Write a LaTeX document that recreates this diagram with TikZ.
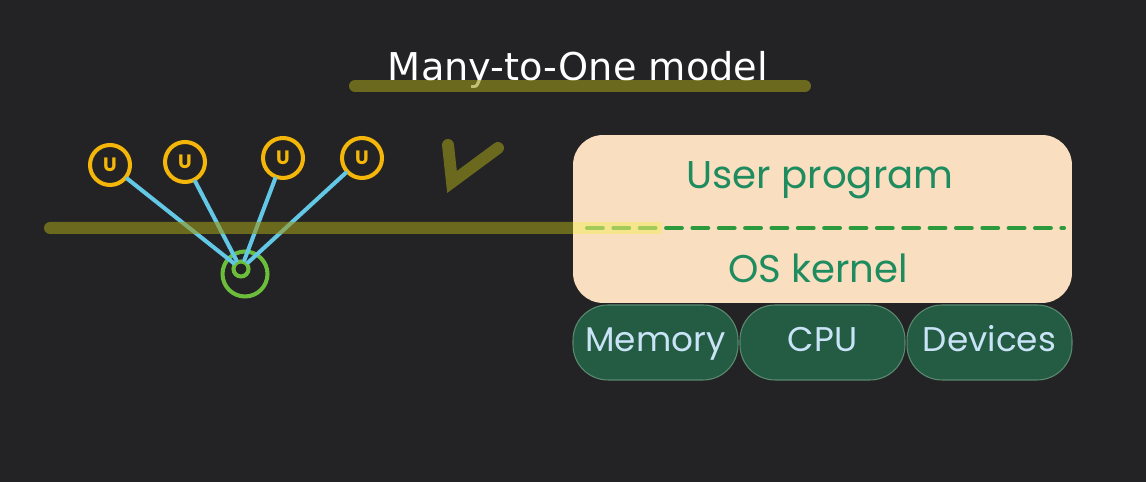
\documentclass[tikz,border=0pt]{standalone}
\usepackage{fontspec}
\setmainfont{DejaVu Sans}
\newfontfamily\handfont{Poppins}
\usetikzlibrary{positioning}
\definecolor{board}{HTML}{232325}
\definecolor{olivebar}{HTML}{9B9919}
\definecolor{glowbar}{HTML}{F2EB6B}
\definecolor{amber}{HTML}{F5B60A}
\definecolor{leaf}{HTML}{6CBD3C}
\definecolor{sky}{HTML}{62C8E6}
\definecolor{peach}{HTML}{FADEC0}
\definecolor{pine}{HTML}{1E8C5E}
\definecolor{dashgreen}{HTML}{2A9A3C}
\definecolor{moss}{HTML}{245B43}
\definecolor{mossline}{HTML}{5A8A70}
\definecolor{ice}{HTML}{C9E3F7}

\begin{document}
\begin{tikzpicture}[x=0.02cm,y=0.02cm,
    uthread/.style={circle,draw=amber,line width=2.3pt,minimum size=0.8cm,inner sep=0pt,
                    text=amber,font=\handfont\bfseries\fontsize{11}{12}\selectfont},
    kthread/.style={circle,draw=leaf,line width=2.3pt,inner sep=0pt},
    link/.style={sky,line width=2.3pt,line cap=round},
    marker/.style={olivebar,opacity=0.6,line width=6.8pt,line cap=round},
    hot/.style={fill=peach,rounded corners=0.6cm,minimum width=9.98cm,minimum height=3.36cm},
    pill/.style={draw=mossline,line width=0.6pt,fill=moss,rounded corners=0.7cm,
                 minimum width=3.3cm,minimum height=1.5cm,text=ice,
                 text height=1.25em,text depth=0.2em,
                 font=\handfont\fontsize{19.5}{22}\selectfont},
    layer/.style={text=pine,font=\handfont\fontsize{22}{26}\selectfont}]
  \fill[board] (0,0) rectangle (1146,482);

  \node[text=white,font=\fontsize{21.8}{26}\selectfont] (title) at (578,412) {Many-to-One model};
  \draw[marker] (355,396) -- (805,396);

  \node[hot] (os) at (822.5,263) {};
  \node[layer] (user) at (820,302) {User program};
  \node[layer] (kern) at (818,214) {OS kernel};
  \draw[dashgreen,line width=2.3pt,line cap=round,dash pattern=on 9pt off 6pt] (587,254) -- (1064,254);

  \node[pill] (mem) at (655.5,139.5) {Memory};
  \node[pill] (cpu) at (822.5,139.5) {CPU};
  \node[pill] (dev) at (989.5,139.5) {Devices};

  \node[uthread] (u1) at (110,317) {U};
  \node[uthread] (u2) at (185,320) {U};
  \node[uthread] (u3) at (283,324) {U};
  \node[uthread] (u4) at (362,324) {U};
  \node[kthread,minimum size=0.9cm] (kout) at (245,208) {};
  \node[kthread,minimum size=0.3cm] (kin) at (241,213) {};
  \foreach \u in {u1,u2,u3,u4} \draw[link] (\u) -- (kin);

  \fill[olivebar,opacity=0.6] (573,248) -- (50,248) arc[start angle=270,end angle=90,radius=6]
       -- (573,260) -- cycle;
  \draw[glowbar,opacity=0.6,line width=6.8pt] (573,254) -- (662,254);
  \draw[marker] (448,337) -- (452,300) -- (498,334);
\end{tikzpicture}
\end{document}
